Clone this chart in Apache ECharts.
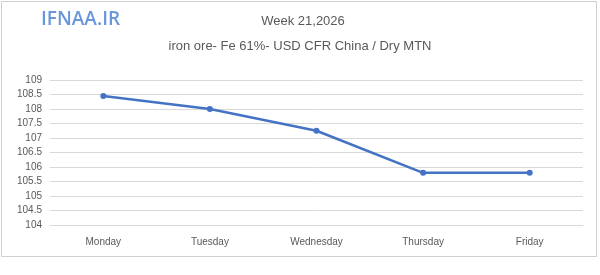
<!DOCTYPE html>
<html>
<head>
<meta charset="utf-8">
<script src="https://cdn.jsdelivr.net/npm/echarts@6/dist/echarts.min.js"></script>
<style>
  html, body { margin: 0; padding: 0; background: #fff; }
  #chart { width: 600px; height: 275px; }
</style>
</head>
<body>
<div id="chart"></div>
<script>
// weekday categories and price values (USD / dry MTN)
const days = ['Monday', 'Tuesday', 'Wednesday', 'Thursday', 'Friday'];
const prices = [108.45, 108.0, 107.25, 105.8, 105.8];
const yTicks = [104, 104.5, 105, 105.5, 106, 106.5, 107, 107.5, 108, 108.5, 109];

const lineColor = '#4472C4';
const textColor = '#595959';

const chart = echarts.init(document.getElementById('chart'));
chart.setOption({
  animation: false,
  title: [{
    text: 'Week 21,2026',
    left: 298,
    top: 10,
    textAlign: 'center',
    textStyle: { color: textColor, fontSize: 13, fontWeight: 'normal', fontFamily: 'Liberation Sans' }
  }, {
    text: 'iron ore- Fe 61%- USD CFR China / Dry MTN',
    left: 295,
    top: 35,
    textAlign: 'center',
    textStyle: { color: textColor, fontSize: 13, fontWeight: 'normal', fontFamily: 'Liberation Sans' }
  }],
  graphic: [{
    type: 'rect',
    shape: { x: 1.5, y: 1.5, width: 595, height: 255 },
    style: { fill: 'none', stroke: '#d0d0d0', lineWidth: 1 }
  }, {
    type: 'text',
    left: 41,
    top: 10,
    style: { text: 'IFNAA.IR', fill: '#6a97dc', font: '600 19px "Open Sans"' }
  }],
  grid: { left: 50, right: 17, top: 80, bottom: 50 },
  xAxis: {
    type: 'category',
    data: days,
    axisLine: { lineStyle: { color: '#d9d9d9' } },
    axisTick: { show: false },
    axisLabel: { color: textColor, fontSize: 10, margin: 12, fontFamily: 'Liberation Sans' }
  },
  yAxis: {
    type: 'value',
    min: yTicks[0],
    max: yTicks[yTicks.length - 1],
    interval: 0.5,
    axisLine: { show: false },
    axisTick: { show: false },
    axisLabel: { color: textColor, fontSize: 10, margin: 8, fontFamily: 'Liberation Sans' },
    splitLine: { lineStyle: { color: '#d9d9d9' } }
  },
  series: [{
    type: 'line',
    data: prices,
    symbol: 'circle',
    symbolSize: 6,
    itemStyle: { color: lineColor },
    lineStyle: { color: lineColor, width: 2.5 }
  }]
});
</script>
</body>
</html>
